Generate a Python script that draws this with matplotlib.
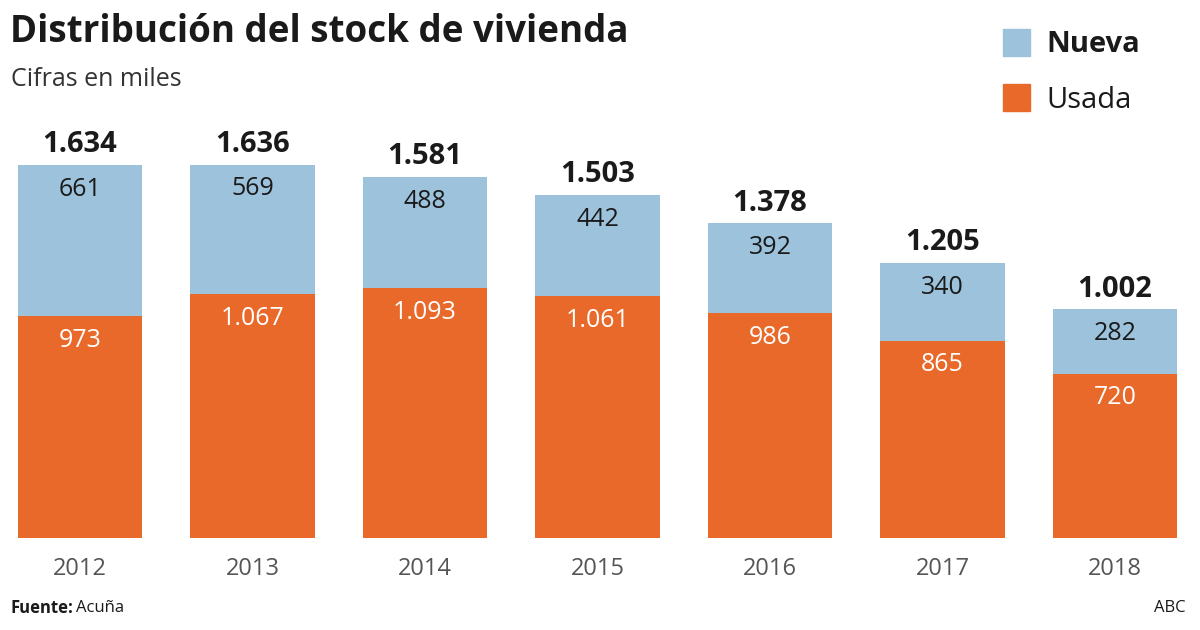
import matplotlib.pyplot as plt
import numpy as np

years = ['2012', '2013', '2014', '2015', '2016', '2017', '2018']
nueva = [661, 569, 488, 442, 392, 340, 282]
usada = [973, 1067, 1093, 1061, 986, 865, 720]
totals = ['1.634', '1.636', '1.581', '1.503', '1.378', '1.205', '1.002']
nueva_labels = ['661', '569', '488', '442', '392', '340', '282']
usada_labels = ['973', '1.067', '1.093', '1.061', '986', '865', '720']

BLUE = '#9cc2dc'
ORANGE = '#e8692a'
FONT = ['Open Sans', 'DejaVu Sans']

plt.rcParams['font.family'] = FONT

fig = plt.figure(figsize=(12, 6.3), dpi=100)
W, H = 1200, 630
# axes: x 18..1177 px, y (from top) 100..538 px
ax = fig.add_axes([18 / W, (H - 538) / H, (1177 - 18) / W, (538 - 100) / H])

x = np.arange(len(years))
width = 0.72
usada_arr = np.array(usada)
nueva_arr = np.array(nueva)
ax.bar(x, usada_arr, width, color=ORANGE, label='Usada')
ax.bar(x, nueva_arr, width, bottom=usada_arr, color=BLUE, label='Nueva')

ax.set_xlim(-0.36, 6.36)
ax.set_ylim(0, 438 / 0.2283)
ax.axis('off')

for i in range(len(years)):
    top = usada_arr[i] + nueva_arr[i]
    ax.annotate(totals[i], (x[i], top), xytext=(0, 14.5), textcoords='offset points',
                ha='center', va='center', fontsize=21, fontweight='bold', color='#1a1a1a')
    ax.annotate(nueva_labels[i], (x[i], top), xytext=(0, -17.5), textcoords='offset points',
                ha='center', va='center', fontsize=18, color='#1a1a1a')
    ax.annotate(usada_labels[i], (x[i], usada_arr[i]), xytext=(0, -17.5), textcoords='offset points',
                ha='center', va='center', fontsize=18, color='white')
    ax.annotate(years[i], (x[i], 0), xytext=(0, -22), textcoords='offset points',
                ha='center', va='center', fontsize=17, color='#555555')

fig.text(10 / W, 1 - 32 / H, 'Distribución del stock de vivienda', fontsize=26.5,
         fontweight='bold', color='#1a1a1a', ha='left', va='center')
fig.text(11 / W, 1 - 80 / H, 'Cifras en miles', fontsize=18, color='#333333',
         ha='left', va='center')

# legend
fig.patches.append(plt.Rectangle((1003 / W, 1 - 56 / H), 27 / W, 27 / H,
                                 transform=fig.transFigure, color=BLUE, figure=fig))
fig.patches.append(plt.Rectangle((1003 / W, 1 - 111 / H), 27 / W, 27 / H,
                                 transform=fig.transFigure, color=ORANGE, figure=fig))
fig.text(1046 / W, 1 - 44 / H, 'Nueva', fontsize=21, fontweight='bold', color='#1a1a1a',
         ha='left', va='center')
fig.text(1046 / W, 1 - 100 / H, 'Usada', fontsize=21, color='#1a1a1a', ha='left', va='center')

fig.text(10 / W, 1 - 608 / H, 'Fuente:', fontsize=12, fontweight='bold', color='#1a1a1a',
         ha='left', va='center')
fig.text(76 / W, 1 - 608 / H, 'Acuña', fontsize=12, color='#1a1a1a', ha='left', va='center')
fig.text(1186 / W, 1 - 608 / H, 'ABC', fontsize=12, color='#1a1a1a', ha='right', va='center')

fig.savefig('out.png', dpi=100, facecolor='white')
